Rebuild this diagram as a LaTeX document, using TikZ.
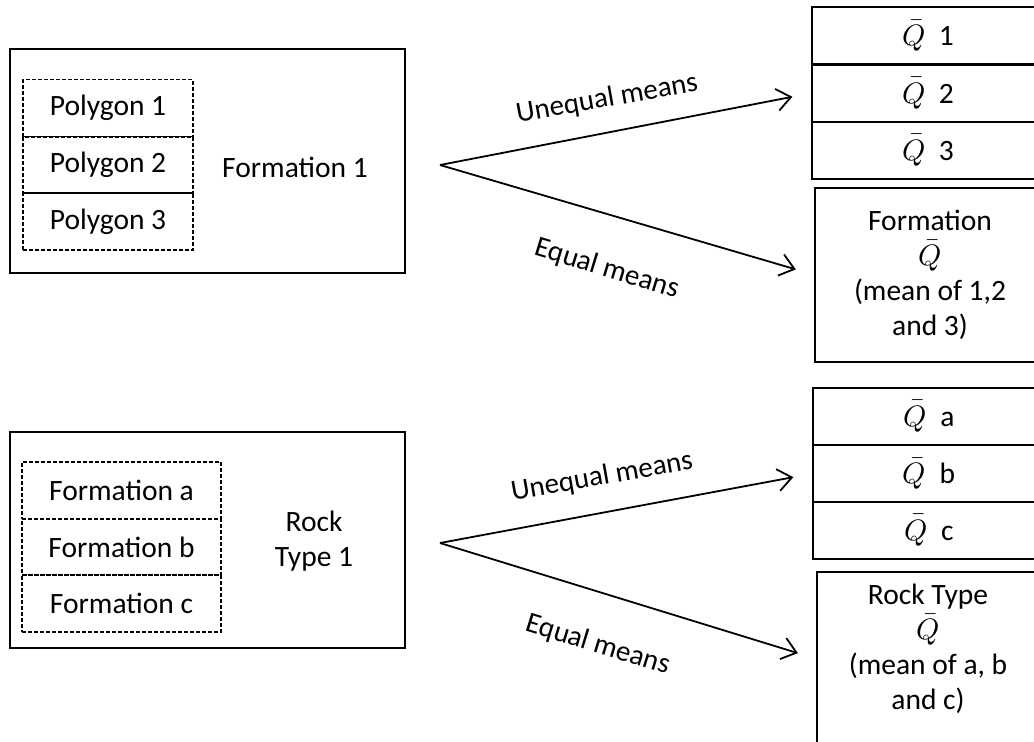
\documentclass[tikz,border=0pt]{standalone}
\usepackage{fontspec}
\usepackage{unicode-math}
\setmainfont{Carlito}
\setmathfont{Latin Modern Math}
\usetikzlibrary{arrows.meta,calc}
\begin{document}
\begin{tikzpicture}[x=1pt,y=-1pt,
  every node/.style={font=\fontsize{29.5}{35}\selectfont, inner sep=0pt, outer sep=0pt},
  bigbox/.style={draw, line width=2pt, minimum width=395pt},
  dbox/.style={draw, dashed, dash pattern=on 4pt off 2pt, line width=1.2pt},
  rowbox/.style={draw, line width=2pt, minimum width=232pt, minimum height=57pt},
  resbox/.style={draw, line width=2pt, minimum width=230pt},
  conn/.style={line width=1.8pt, -{Straight Barb[length=14pt,width=22pt,line width=1.8pt]}, shorten >=20pt},
  lbl/.style={font=\fontsize{29}{35}\selectfont}]
\useasboundingbox (0,0) rectangle (1034,742);
\clip (0,0) rectangle (1034,742);

% ---------- top group ----------
\node[bigbox, minimum height=224pt] (f1) at (207.5,161) {};
\node[dbox, minimum width=170pt, minimum height=57pt] (p1) at (108,108) {Polygon 1};
\node[dbox, minimum width=170pt, minimum height=56pt] (p2) at (108,165) {Polygon 2};
\node[dbox, minimum width=170pt, minimum height=57pt] (p3) at (108,221.5) {Polygon 3};
\node (f1t) at (295,167) {Formation 1};

\node[rowbox] (q1) at (928,35.5) {$\bar{Q}$~~1};
\node[rowbox] (q2) at (928,93) {$\bar{Q}$~~2};
\node[rowbox] (q3) at (928,150) {$\bar{Q}$~~3};
\node[resbox, minimum height=174pt, align=center] (fm) at (930,275)
  {Formation\\$\bar{Q}$\\(mean of 1,2\\and 3)};

\coordinate (a1) at (440,165);
\draw[conn] (a1) -- (q2.west);
\draw[conn] (a1) -- (fm.west);
\node[lbl, rotate=10] (u1) at (607,99) {Unequal means};
\node[lbl, rotate=-17] (e1) at (607,269) {Equal means};

% ---------- bottom group ----------
\node[bigbox, minimum height=216pt] (r1) at (207.5,540) {};
\node[dbox, minimum width=199pt, minimum height=57pt] (fa) at (121.5,490.5) {Formation a};
\node[dbox, minimum width=199pt, minimum height=56pt] (fb) at (121.5,547) {Formation b};
\node[dbox, minimum width=199pt, minimum height=57pt] (fc) at (121.5,603.5) {Formation c};
\node[align=center] (r1t) at (314,541) {Rock\\Type 1};

\node[rowbox] (qa) at (929,416) {$\bar{Q}$~~a};
\node[rowbox] (qb) at (929,473.5) {$\bar{Q}$~~b};
\node[rowbox] (qc) at (929,530) {$\bar{Q}$~~c};
\node[resbox, minimum height=174pt] (rt) at (932,659) {};
\node[align=center] (rtt) at (928,649) {Rock Type\\$\bar{Q}$\\(mean of a, b\\and c)};

\coordinate (a2) at (440,543);
\draw[conn] (a2) -- (qb.west);
\draw[conn] (a2) -- (rt.west);
\node[lbl, rotate=10] (u2) at (602,477) {Unequal means};
\node[lbl, rotate=-17] (e2) at (598,645) {Equal means};
\end{tikzpicture}
\end{document}
